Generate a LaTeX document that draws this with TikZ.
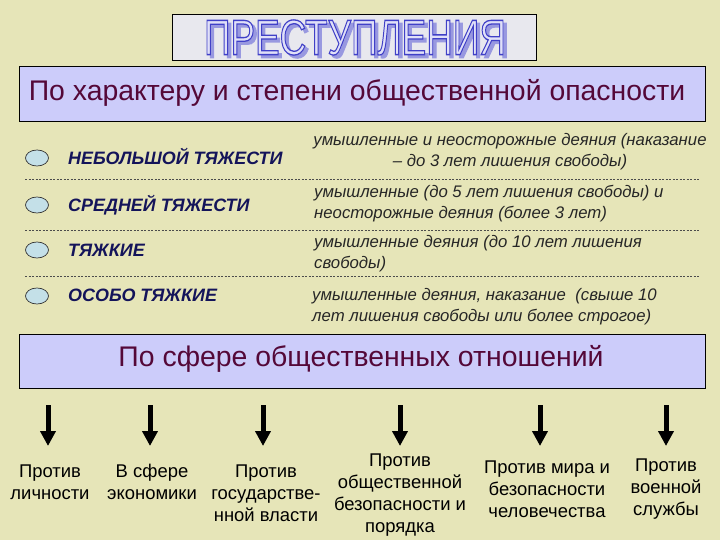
\documentclass[tikz,border=0pt]{standalone}
\usepackage{fontspec}
\setmainfont{Liberation Sans}
\usetikzlibrary{arrows.meta,shapes.geometric}
\definecolor{bg}{HTML}{E6E5B8}
\definecolor{panel}{HTML}{CCCCFA}
\definecolor{maroon}{HTML}{540838}
\definecolor{navy}{HTML}{14145A}
\definecolor{oval}{HTML}{C4E0E8}
\definecolor{titlebox}{HTML}{E8E8EE}
\definecolor{tfill}{HTML}{E0E0F8}
\definecolor{tshadow}{HTML}{9898E0}
\newcommand{\outlinetext}[1]{\special{pdf:literal direct 2 Tr 1.3 w 0.25 0.25 0.78 RG}#1\special{pdf:literal direct 0 Tr}}
\newcommand{\shadowtext}[1]{\special{pdf:literal direct 2 Tr 1.3 w 0.6 0.6 0.88 RG}#1\special{pdf:literal direct 0 Tr}}
\tikzset{
  panelbox/.style={draw=black, line width=0.8bp, fill=panel},
  paneltext/.style={text=maroon, font=\fontsize{28.5}{30}\selectfont, inner sep=0},
  ovalmark/.style={ellipse, draw=black!80, line width=0.7bp, fill=oval, minimum width=23bp, minimum height=16bp, inner sep=0},
  grade/.style={anchor=west, text=navy, font=\fontsize{18}{20}\selectfont\bfseries\itshape, inner sep=0},
  desc/.style={anchor=west, align=left, text=black!85, font=\fontsize{16.8}{21}\selectfont\itshape, inner sep=0},
  sep/.style={dash pattern=on 2bp off 1.5bp, draw=black!70, line width=0.6bp},
  downarrow/.style={line width=5bp, -{Triangle[width=15bp,length=15bp]}},
  sphere/.style={align=center, font=\fontsize{18.5}{22}\selectfont, inner sep=0},
  titletext/.style={xscale=0.74, font=\fontsize{50}{50}\selectfont, inner sep=0}
}
\begin{document}
\begin{tikzpicture}[x=1bp,y=-1bp]
\useasboundingbox (0,0) rectangle (720,540);
\fill[bg] (0,0) rectangle (720,540);
% title
\node[draw=black, line width=0.8bp, fill=titlebox, minimum width=364bp, minimum height=46bp, inner sep=0] (titlebox) at (354,37) {};
\node[titletext] (title) at (355,39) {\rlap{\hspace{4.5bp}\raisebox{-3bp}{\textcolor{tshadow}{\shadowtext{ПРЕСТУПЛЕНИЯ}}}}\textcolor{tfill}{\outlinetext{ПРЕСТУПЛЕНИЯ}}};
% panel 1
\node[panelbox, minimum width=686bp, minimum height=55bp] (p1) at (362,93.5) {};
\node[paneltext] (p1t) at (357,93) {По характеру и степени общественной опасности};
% rows
\node[ovalmark] (o1) at (37,158) {};
\node[ovalmark] (o2) at (37,205) {};
\node[ovalmark] (o3) at (37,250) {};
\node[ovalmark] (o4) at (37,296) {};
\node[grade] (g1) at (68,156) {НЕБОЛЬШОЙ ТЯЖЕСТИ};
\node[grade] (g2) at (68,205) {СРЕДНЕЙ ТЯЖЕСТИ};
\node[grade] (g3) at (68,250) {ТЯЖКИЕ};
\node[grade] (g4) at (68,295) {ОСОБО ТЯЖКИЕ};
\node[desc, anchor=center, align=center] (d1) at (510,152) {умышленные и неосторожные деяния (наказание\\– до 3 лет лишения свободы)};
\node[desc] (d2) at (314,203.5) {умышленные (до 5 лет лишения свободы) и\\неосторожные деяния (более 3 лет)};
\node[desc] (d3) at (314,254) {умышленные деяния (до 10 лет лишения\\свободы)};
\node[desc] (d4) at (312,307) {умышленные деяния, наказание\ \ (свыше 10\\лет лишения свободы или более строгое)};
\coordinate (s1a) at (25,179); \coordinate (s1b) at (700,179);
\coordinate (s2a) at (25,230); \coordinate (s2b) at (700,230);
\coordinate (s3a) at (25,276); \coordinate (s3b) at (700,276);
\draw[sep] (s1a) -- (s1b);
\draw[sep] (s2a) -- (s2b);
\draw[sep] (s3a) -- (s3b);
% panel 2
\node[panelbox, minimum width=686bp, minimum height=54bp] (p2) at (362,361) {};
\node[paneltext] (p2t) at (361,359) {По сфере общественных отношений};
% arrows
\foreach \i/\x in {1/48,2/150,3/263,4/400,5/540,6/666}{
  \coordinate (a\i) at (\x,405);
  \coordinate (b\i) at (\x,446);
  \draw[downarrow] (a\i) -- (b\i);
}
\node[sphere] (n1) at (50,482) {Против\\личности};
\node[sphere] (n2) at (152,482) {В сфере\\экономики};
\node[sphere] (n3) at (266,493) {Против\\государстве-\\нной власти};
\node[sphere] (n4) at (400,495) {Против\\общественной\\безопасности и\\порядка};
\node[sphere] (n5) at (547,489) {Против мира и\\безопасности\\человечества};
\node[sphere] (n6) at (666,489) {Против\\военной\\службы};
\end{tikzpicture}
\end{document}
